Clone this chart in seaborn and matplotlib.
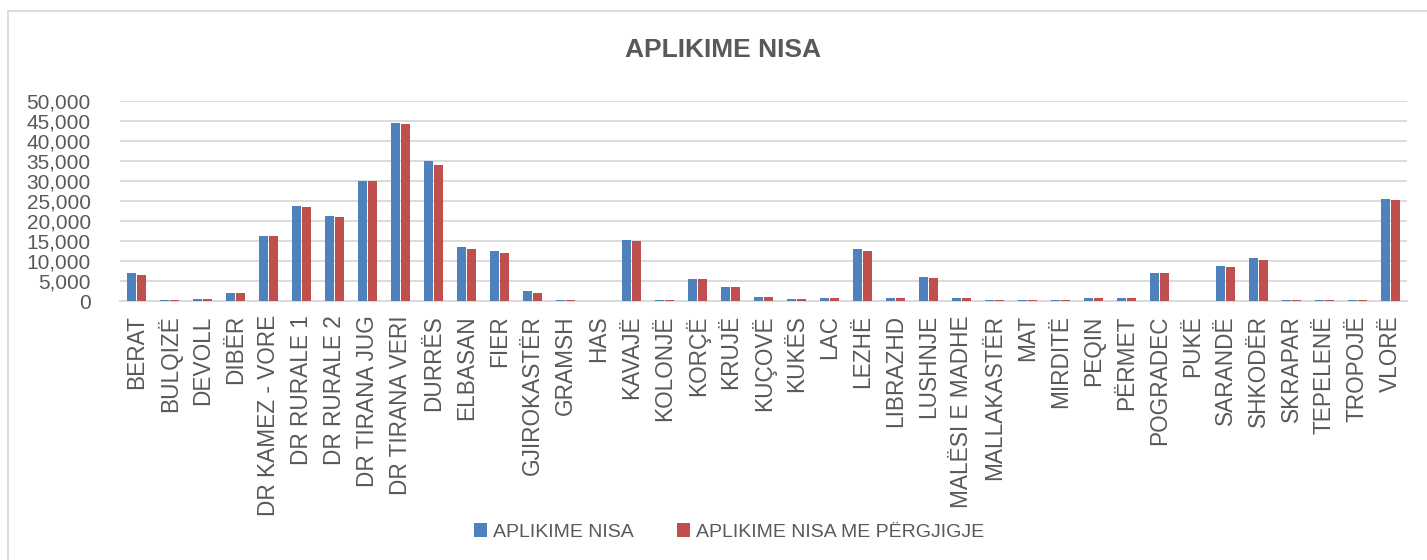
import matplotlib
matplotlib.use("Agg")
import matplotlib.pyplot as plt
import seaborn as sns
import pandas as pd
from matplotlib.patches import Rectangle

categories = ["BERAT", "BULQIZË", "DEVOLL", "DIBËR", "DR KAMEZ - VORE", "DR RURALE 1",
              "DR RURALE 2", "DR TIRANA JUG", "DR TIRANA VERI", "DURRËS", "ELBASAN", "FIER",
              "GJIROKASTËR", "GRAMSH", "HAS", "KAVAJË", "KOLONJË", "KORÇË", "KRUJË", "KUÇOVË",
              "KUKËS", "LAC", "LEZHË", "LIBRAZHD", "LUSHNJE", "MALËSI E MADHE", "MALLAKASTËR",
              "MAT", "MIRDITË", "PEQIN", "PËRMET", "POGRADEC", "PUKË", "SARANDË", "SHKODËR",
              "SKRAPAR", "TEPELENË", "TROPOJË", "VLORË"]

aplikime = [7000, 420, 600, 2150, 16400, 23700, 21200, 30000, 44450, 35000, 13650, 12450,
            2500, 330, 50, 15200, 330, 5650, 3550, 1000,
            580, 830, 12950, 830, 5950, 750, 330,
            400, 330, 750, 830, 7050, 80, 8900, 10700,
            420, 330, 330, 25600]

pergjigje = [6650, 420, 600, 2000, 16250, 23550, 21000, 30000, 44300, 33900, 13050, 11950,
             2150, 330, 30, 15050, 330, 5500, 3550, 1000,
             580, 830, 12550, 830, 5800, 750, 330,
             400, 330, 750, 830, 7050, 80, 8450, 10250,
             420, 330, 330, 25250]

series_names = ["APLIKIME NISA", "APLIKIME NISA ME PËRGJIGJE"]
colors = ["#4F81BD", "#C0504D"]
title = "APLIKIME NISA"

df = pd.DataFrame({
    "Rrethi": categories * 2,
    "Vlera": aplikime + pergjigje,
    "Seria": [series_names[0]] * len(categories) + [series_names[1]] * len(categories),
})

sns.set_theme(style="white")
plt.rcParams["font.family"] = ["Liberation Sans", "DejaVu Sans"]
text_color = "#595959"
grid_color = "#D9D9D9"

fig = plt.figure(figsize=(14.27, 5.6), dpi=100)
ax = fig.add_axes([120 / 1427, 1 - 301.3 / 560, (1407 - 120) / 1427, (301.3 - 100.7) / 560])

sns.barplot(data=df, x="Rrethi", y="Vlera", hue="Seria", palette=colors, width=0.6,
            saturation=1, edgecolor="none", linewidth=0, ax=ax, legend=True, zorder=3)

# leave a thin white gap between paired bars
for p in ax.patches:
    w = p.get_width()
    if w > 0:
        p.set_x(p.get_x() + 0.025)
        p.set_width(w - 0.05)

ax.set_xlim(-0.5, len(categories) - 0.5)
ax.set_ylim(0, 50000)
ax.set_yticks(range(0, 50001, 5000))
ax.set_yticklabels([f"{v:,}" for v in range(0, 50001, 5000)])
ax.set_xlabel("")
ax.set_ylabel("")
ax.yaxis.grid(True, color=grid_color, linewidth=1.3, zorder=0)
ax.set_axisbelow(True)
for s in ["top", "right", "left"]:
    ax.spines[s].set_visible(False)
ax.spines["bottom"].set_color(grid_color)
ax.spines["bottom"].set_linewidth(1.3)
ax.spines["bottom"].set_zorder(1)
ax.tick_params(axis="both", length=0, colors=text_color)
ax.tick_params(axis="y", labelsize=15, pad=21)
ax.tick_params(axis="x", labelsize=16.3, pad=10)
for lab in ax.get_xticklabels():
    lab.set_rotation(90)
for lab in ax.get_yticklabels():
    lab.set_horizontalalignment("right")

handles, labels = ax.get_legend_handles_labels()
ax.get_legend().remove()
fig.legend(handles, labels, loc="center", bbox_to_anchor=(729 / 1427, 1 - 532 / 560), ncol=2,
           frameon=False, fontsize=14, handlelength=0.7, handleheight=0.7, handletextpad=0.3,
           columnspacing=2.2, labelcolor=text_color)

fig.text(723 / 1427, 1 - 50 / 560, title, ha="center", va="center", fontsize=19,
         fontweight="bold", color=text_color)

fig.patches.append(Rectangle((8 / 1427, -0.05), 1.2, 1 - 11 / 560 + 0.05, fill=False,
                             edgecolor=grid_color, linewidth=1.3, transform=fig.transFigure,
                             figure=fig))

fig.savefig("out.png", dpi=100)
